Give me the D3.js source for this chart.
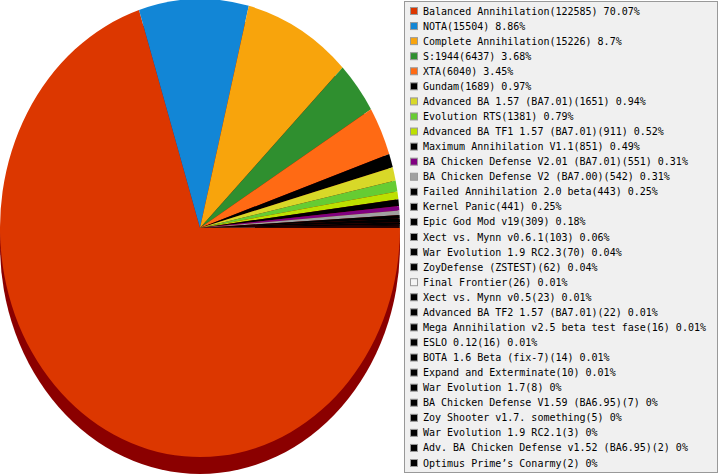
<!DOCTYPE html>
<html>
<head>
<meta charset="utf-8">
<script src="https://cdn.jsdelivr.net/npm/d3@7"></script>
<style>
  body { margin: 0; background: #fff; }
  svg { display: block; }
  .legend text { font-family: "DejaVu Sans Mono", monospace; font-size: 10px; fill: #000; }
</style>
</head>
<body>
<svg width="719" height="475"></svg>
<script>
// mods and how many games each got
var mods = [
  'Balanced Annihilation', 'NOTA', 'Complete Annihilation', 'S:1944', 'XTA', 'Gundam',
  'Advanced BA 1.57 (BA7.01)', 'Evolution RTS', 'Advanced BA TF1 1.57 (BA7.01)',
  'Maximum Annihilation V1.1', 'BA Chicken Defense V2.01 (BA7.01)', 'BA Chicken Defense V2 (BA7.00)',
  'Failed Annihilation 2.0 beta', 'Kernel Panic', 'Epic God Mod v19', 'Xect vs. Mynn v0.6.1',
  'War Evolution 1.9 RC2.3', 'ZoyDefense (ZSTEST)', 'Final Frontier', 'Xect vs. Mynn v0.5',
  'Advanced BA TF2 1.57 (BA7.01)', 'Mega Annihilation v2.5 beta test fase', 'ESLO 0.12',
  'BOTA 1.6 Beta (fix-7)', 'Expand and Exterminate', 'War Evolution 1.7',
  'BA Chicken Defense V1.59 (BA6.95)', 'Zoy Shooter v1.7. something', 'War Evolution 1.9 RC2.1',
  'Adv. BA Chicken Defense v1.52 (BA6.95)', 'Optimus Prime\u2019s Conarmy'
];
var games = [
  122585, 15504, 15226, 6437, 6040, 1689, 1651, 1381, 911, 851, 551, 542, 443, 441, 309,
  103, 70, 62, 26, 23, 22, 16, 16, 14, 10, 8, 7, 5, 3, 2, 2
];
var colors = [
  '#dc3700', '#1286d6', '#f8a40c', '#2f8f2f', '#ff6a14', '#000000', '#d8d828', '#66cc33',
  '#bde000', '#000000', '#800080', '#a0a0a0', '#000000', '#000000', '#000000', '#000000',
  '#000000', '#000000', '#f4f4f4', '#000000', '#000000', '#000000', '#000000', '#000000',
  '#000000', '#000000', '#000000', '#000000', '#000000', '#000000', '#000000'
];

var data = mods.map(function(m, i) { return { name: m, value: games[i], color: colors[i] }; });
var total = d3.sum(games);

var svg = d3.select('svg');

// squashed pie: unit arcs scaled into an ellipse
var cx = 200, cy = 228, rx = 200, ry = 229, drop = 17;

svg.append('ellipse')
  .attr('cx', cx).attr('cy', cy + drop)
  .attr('rx', rx).attr('ry', ry)
  .attr('fill', '#8b0000');

var pie = d3.pie()
  .sort(null)
  .value(function(d) { return d.value; })
  .startAngle(Math.PI / 2)
  .endAngle(Math.PI / 2 + 2 * Math.PI);

var arc = d3.arc().innerRadius(0).outerRadius(1);

svg.append('g')
  .attr('transform', 'translate(' + cx + ',' + cy + ') scale(' + rx + ',' + ry + ')')
  .selectAll('path')
  .data(pie(data))
  .enter()
  .append('path')
  .attr('d', arc)
  .attr('fill', function(d) { return d.data.color; });

// legend
var lg = svg.append('g').attr('class', 'legend');

lg.append('rect')
  .attr('x', 404.5).attr('y', 1.5)
  .attr('width', 313).attr('height', 471)
  .attr('fill', '#f0f0f0')
  .attr('stroke', '#999');

var rowY = d3.scaleLinear().domain([0, data.length - 1]).range([11, 463]);

var rows = lg.selectAll('.row')
  .data(data)
  .enter()
  .append('g')
  .attr('class', 'row')
  .attr('transform', function(d, i) { return 'translate(0,' + rowY(i) + ')'; });

rows.append('rect')
  .attr('x', 410.5).attr('y', -3.5)
  .attr('width', 7).attr('height', 7)
  .attr('fill', function(d) { return d.color; })
  .attr('stroke', '#999');

rows.append('text')
  .attr('x', 423).attr('y', 0)
  .attr('dy', '0.35em')
  .text(function(d) {
    return d.name + '(' + d.value + ') ' + (+(d.value / total * 100).toFixed(2)) + '%';
  });
</script>
</body>
</html>
